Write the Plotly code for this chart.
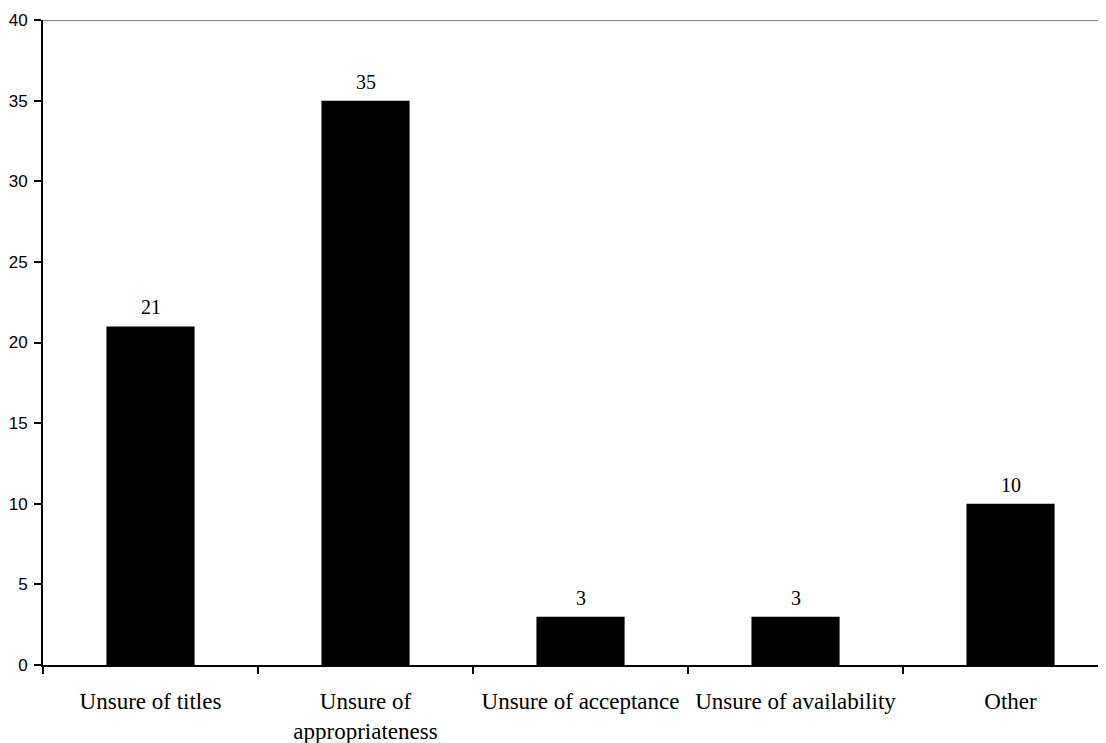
import plotly.graph_objects as go

categories = ["Unsure of titles", "Unsure of<br>appropriateness", "Unsure of acceptance",
              "Unsure of availability", "Other"]
values = [21, 35, 3, 3, 10]
y_ticks = [0, 5, 10, 15, 20, 25, 30, 35, 40]

SERIF = "Liberation Serif, Times New Roman, serif"
SANS = "Liberation Sans, Arial, sans-serif"

fig = go.Figure()
fig.add_trace(go.Bar(x=categories, y=values, width=0.41,
                     marker=dict(color="black", line=dict(width=0)),
                     hoverinfo="skip"))

for c, v in zip(categories, values):
    fig.add_annotation(x=c, y=v, text=str(v), showarrow=False, yanchor="bottom",
                       yshift=6, font=dict(family=SERIF, size=20, color="black"))

fig.add_shape(type="line", xref="paper", yref="y", x0=0, x1=1, y0=40, y1=40,
              line=dict(color="#808080", width=2))

fig.update_layout(
    width=1098, height=735,
    margin=dict(l=35, r=0, t=12, b=78),
    paper_bgcolor="white", plot_bgcolor="white",
    showlegend=False,
    xaxis=dict(type="category", range=[-0.5, 4.444], tickson="boundaries",
               ticks="outside", ticklen=7, tickwidth=2, tickcolor="black",
               showline=True, linecolor="black", linewidth=2, showgrid=False,
               ticklabelstandoff=14, tickangle=0, automargin=False,
               tickfont=dict(family=SERIF, size=23, color="black")),
    yaxis=dict(range=[0, 40], tickvals=y_ticks, ticks="outside", ticklen=7, tickwidth=2,
               tickcolor="black", showline=True, linecolor="black", linewidth=2,
               showgrid=False, zeroline=False, ticklabelstandoff=3, automargin=False,
               tickfont=dict(family=SANS, size=17, color="black")),
)

fig.write_html("out.html")
